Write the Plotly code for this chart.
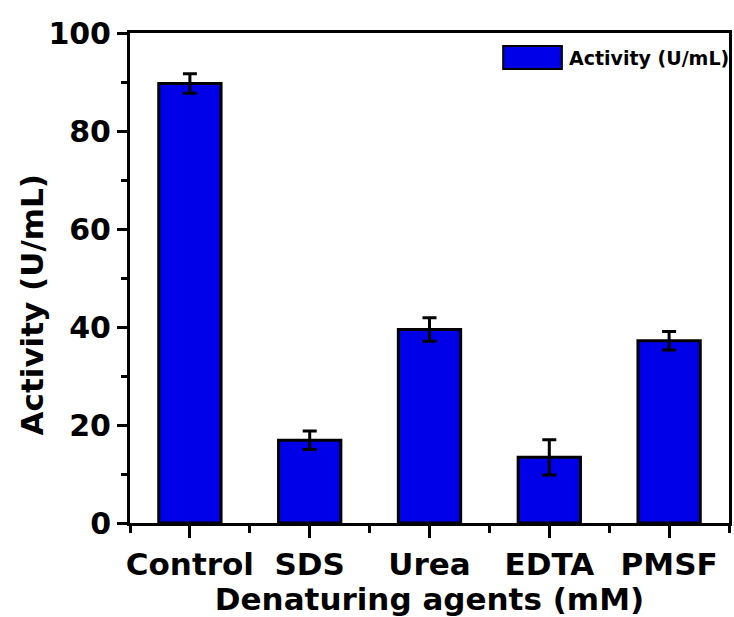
import plotly.graph_objects as go

categories = ["Control", "SDS", "Urea", "EDTA", "PMSF"]
activity = [89.7, 16.9, 39.5, 13.4, 37.2]
errors = [2.0, 1.9, 2.4, 3.6, 1.9]
y_ticks = [0, 20, 40, 60, 80, 100]

x_pos = list(range(len(categories)))

FONT = "DejaVu Sans"
BLUE = "rgb(0,0,232)"

fig = go.Figure()
fig.add_trace(go.Bar(
    x=x_pos, y=activity, width=0.52,
    marker=dict(color=BLUE, line=dict(color="black", width=3)),
    error_y=dict(type="data", array=errors, visible=True, color="black", thickness=3, width=7),
    showlegend=False, name="Activity (U/mL)",
))

fig.update_layout(
    width=734, height=617,
    margin=dict(l=130, r=2, t=33, b=94),
    plot_bgcolor="white", paper_bgcolor="white",
    font=dict(family=FONT, color="black"),
    xaxis=dict(
        range=[-0.5, 4.5], tickmode="array", tickvals=x_pos, ticktext=categories,
        tickfont=dict(family=FONT, size=31, weight="bold", color="black"),
        ticks="outside", ticklen=12, tickwidth=3, tickcolor="black",
        minor=dict(tickmode="linear", tick0=0.5, dtick=1, ticks="outside", ticklen=7, tickwidth=3, tickcolor="black"),
        showline=True, linecolor="black", linewidth=3, mirror=True,
        showgrid=False, zeroline=False,
        title=dict(text="Denaturing agents (mM)", font=dict(family=FONT, size=31, weight="bold", color="black"), standoff=6),
    ),
    yaxis=dict(
        range=[0, 100], tickmode="array", tickvals=y_ticks,
        tickfont=dict(family=FONT, size=30, weight="bold", color="black"),
        ticks="outside", ticklen=10, tickwidth=3, tickcolor="black",
        minor=dict(tickmode="linear", tick0=10, dtick=20, ticks="outside", ticklen=6, tickwidth=3, tickcolor="black"),
        showline=True, linecolor="black", linewidth=3, mirror=True,
        showgrid=False, zeroline=False,
    ),
)

# Y-axis title placed as annotation (offset like the reference)
fig.add_annotation(
    text="Activity (U/mL)", textangle=-90, xref="paper", yref="paper",
    x=-0.1645, y=0.445, xanchor="center", yanchor="middle", showarrow=False,
    font=dict(family=FONT, size=31, weight="bold", color="black"),
)

# Legend drawn manually (larger swatch as in the reference)
fig.add_shape(type="rect", xref="paper", yref="paper",
              x0=0.623, x1=0.721, y0=0.9265, y1=0.9735,
              fillcolor=BLUE, line=dict(color="black", width=2))
fig.add_annotation(
    text="Activity (U/mL)", xref="paper", yref="paper",
    x=0.729, y=0.95, xanchor="left", yanchor="middle", showarrow=False,
    font=dict(family=FONT, size=19, weight="bold", color="black"),
)

fig.write_html("out.html")
